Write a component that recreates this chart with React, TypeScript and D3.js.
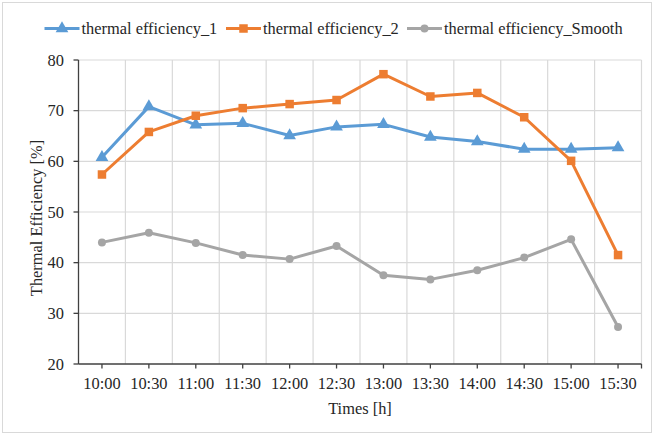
import React from "react";
import * as d3 from "d3";

const categories = ["10:00", "10:30", "11:00", "11:30", "12:00", "12:30", "13:00", "13:30", "14:00", "14:30", "15:00", "15:30"];
const eff1 = [60.8, 70.8, 67.2, 67.5, 65.1, 66.8, 67.3, 64.8, 63.9, 62.4, 62.4, 62.7];
const eff2 = [57.4, 65.8, 69.0, 70.5, 71.3, 72.1, 77.2, 72.8, 73.5, 68.7, 60.1, 41.5];
const effSmooth = [44.0, 45.9, 43.9, 41.5, 40.7, 43.3, 37.5, 36.7, 38.5, 41.0, 44.6, 27.3];
const yTicks = [20, 30, 40, 50, 60, 70, 80];
const seriesNames = ["thermal efficiency_1", "thermal efficiency_2", "thermal efficiency_Smooth"];
const seriesColors = ["#5B9BD5", "#ED7D31", "#A5A5A5"];
const seriesMarkers = ["triangle", "square", "circle"];
const yTitle = "Thermal Efficiency [%]";
const xTitle = "Times [h]";

const W = 655;
const H = 436;
const FONT = "'Liberation Serif', 'Times New Roman', serif";
const FS = 16.4;

function Marker({ type, cx, cy, color }: { type: string; cx: number; cy: number; color: string }) {
  if (type === "triangle") {
    const p = d3.symbol(d3.symbolTriangle, 70)();
    return <path d={p as string} transform={`translate(${cx},${cy})`} fill={color} />;
  }
  if (type === "square") {
    const s = 8.5;
    return <rect x={cx - s / 2} y={cy - s / 2} width={s} height={s} fill={color} />;
  }
  return <circle cx={cx} cy={cy} r={4} fill={color} />;
}

export default function App() {
  const left = 78.5, right = 641.5, top = 60, bottom = 364;
  const x = d3.scaleBand<string>().domain(categories).range([left, right]).padding(0);
  const y = d3.scaleLinear().domain([20, 80]).range([bottom, top]);
  const cx = (c: string) => (x(c) as number) + x.bandwidth() / 2;
  const data = [eff1, eff2, effSmooth];
  const line = d3
    .line<number>()
    .x((_, i) => cx(categories[i]))
    .y((d) => y(d));

  const legendX = [44.5, 226, 407];
  const legendY = 28.5;

  return (
    <svg
      width={W}
      height={H}
      style={{ position: "absolute", left: 0, top: 0, display: "block", background: "#fff" }}
      fontFamily={FONT}
    >
      <rect x={2.5} y={2.5} width={649} height={430} fill="#fff" stroke="#d9d9d9" strokeWidth={1} />

      {yTicks.filter((t) => t !== 20).map((t) => (
        <line key={"hg" + t} x1={left} x2={right} y1={y(t)} y2={y(t)} stroke="#d9d9d9" strokeWidth={1.2} />
      ))}
      {categories.map((c) => (
        <line
          key={"vg" + c}
          x1={(x(c) as number) + x.bandwidth()}
          x2={(x(c) as number) + x.bandwidth()}
          y1={top}
          y2={bottom}
          stroke="#d9d9d9"
          strokeWidth={1.2}
        />
      ))}

      <line x1={left} x2={left} y1={top} y2={bottom} stroke="#404040" strokeWidth={1.3} />
      <line x1={left} x2={right} y1={bottom} y2={bottom} stroke="#404040" strokeWidth={1.3} />
      {yTicks.map((t) => (
        <g key={"yt" + t}>
          <line x1={left - 5} x2={left} y1={y(t)} y2={y(t)} stroke="#404040" strokeWidth={1.3} />
          <text x={64} y={y(t)} textAnchor="end" dominantBaseline="central" fontSize={FS} fill="#262626">
            {t}
          </text>
        </g>
      ))}
      {categories.map((c) => (
        <g key={"xt" + c}>
          <line x1={cx(c)} x2={cx(c)} y1={bottom} y2={bottom + 4.5} stroke="#404040" strokeWidth={1.3} />
          <text x={cx(c)} y={383.5} textAnchor="middle" dominantBaseline="central" fontSize={FS} fill="#262626">
            {c}
          </text>
        </g>
      ))}
      <line x1={right} x2={right} y1={bottom} y2={bottom + 4.5} stroke="#404040" strokeWidth={1.3} />

      <text
        x={0}
        y={0}
        transform={`translate(36,${(top + bottom) / 2 + 6}) rotate(-90)`}
        textAnchor="middle"
        dominantBaseline="central"
        fontSize={FS}
        fill="#262626"
      >
        {yTitle}
      </text>
      <text x={(left + right) / 2} y={408} textAnchor="middle" dominantBaseline="central" fontSize={FS} fill="#262626">
        {xTitle}
      </text>

      {data.map((vals, si) => (
        <g key={"s" + si}>
          <path d={line(vals) as string} fill="none" stroke={seriesColors[si]} strokeWidth={3} strokeLinejoin="round" strokeLinecap="round" />
          {vals.map((v, i) => (
            <Marker key={i} type={seriesMarkers[si]} cx={cx(categories[i])} cy={y(v)} color={seriesColors[si]} />
          ))}
        </g>
      ))}

      {seriesNames.map((n, si) => (
        <g key={"lg" + si}>
          <line x1={legendX[si]} x2={legendX[si] + 35} y1={legendY} y2={legendY} stroke={seriesColors[si]} strokeWidth={3} />
          <Marker type={seriesMarkers[si]} cx={legendX[si] + 17.5} cy={legendY} color={seriesColors[si]} />
          <text x={legendX[si] + 37} y={legendY} dominantBaseline="central" fontSize={FS} fill="#262626">
            {n}
          </text>
        </g>
      ))}
    </svg>
  );
}
